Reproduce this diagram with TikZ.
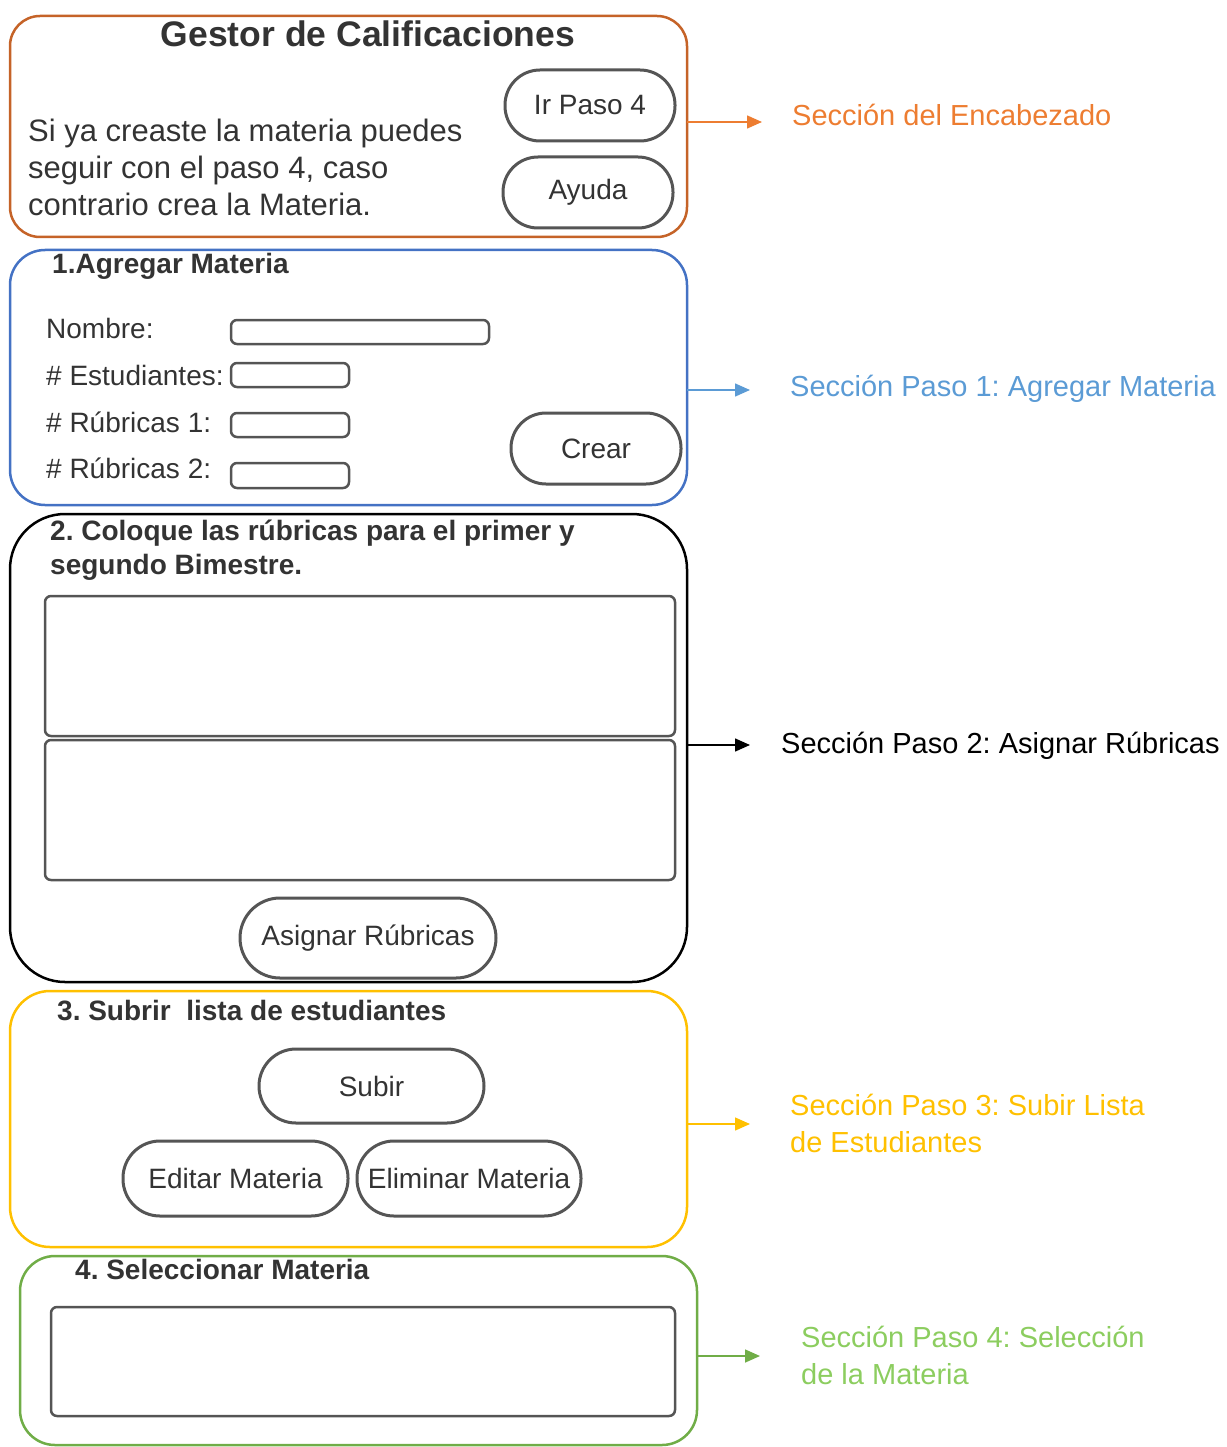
\documentclass[tikz,border=0pt]{standalone}
\usepackage{fontspec}
\setmainfont{Liberation Sans}
\usetikzlibrary{arrows.meta}
\frenchspacing

\definecolor{hdrline}{RGB}{197,99,40}
\definecolor{hdrtxt}{RGB}{237,125,49}
\definecolor{oneline}{RGB}{68,114,196}
\definecolor{onetxt}{RGB}{91,155,213}
\definecolor{threeline}{RGB}{255,192,0}
\definecolor{fourline}{RGB}{112,173,71}
\definecolor{fourtxt}{RGB}{140,205,95}
\definecolor{uigray}{RGB}{85,85,85}
\definecolor{inktxt}{RGB}{51,51,51}

\begin{document}
\begin{tikzpicture}[x=1pt,y=-1pt,
  sect/.style={draw, line width=2.5pt, inner sep=0pt, outer sep=0pt},
  pill/.style={draw=uigray, line width=3pt, inner sep=0pt, text=inktxt,
    font=\fontsize{28}{34}\selectfont},
  field/.style={draw=uigray, line width=2.5pt, rounded corners=6pt, inner sep=0pt},
  txt/.style={anchor=west, inner sep=0pt, text depth=0pt, text=inktxt},
  t28/.style={font=\fontsize{28}{34}\selectfont, text height=20pt},
  t31/.style={font=\fontsize{31}{37}\selectfont, text height=22pt},
  hd/.style={font=\bfseries\fontsize{28}{34}\selectfont, text height=20pt},
  side/.style={anchor=west, inner sep=0pt, text depth=0pt, text height=21pt,
    font=\fontsize{29}{35}\selectfont},
  arr/.style={line width=1.5pt, -{Triangle[length=15pt,width=13pt]}}
]
\useasboundingbox (0,0) rectangle (1226,1447);

% ---- section frames ----
\node (hdr)  [sect, draw=hdrline, rounded corners=30pt, minimum width=677pt, minimum height=221pt] at (348.5,126.5) {};
\node (stp1) [sect, draw=oneline, rounded corners=35pt, minimum width=677pt, minimum height=255pt] at (348.5,377.5) {};
\node (stp2) [sect, draw=black, rounded corners=55pt, minimum width=677pt, minimum height=468pt] at (348.5,748) {};
\node (stp3) [sect, draw=threeline, rounded corners=40pt, minimum width=677pt, minimum height=256pt] at (348.5,1119) {};
\node (stp4) [sect, draw=fourline, rounded corners=35pt, minimum width=677pt, minimum height=189pt] at (358.5,1350.5) {};

% ---- header ----
\node (title) [inner sep=0pt, text depth=0pt, text height=26pt, text=inktxt,
  font=\bfseries\fontsize{35.5}{42}\selectfont] at (368,34) {Gestor de Calificaciones};
\node (intro1) [txt, t31] at (28,131) {Si ya creaste la materia puedes};
\node (intro2) [txt, t31] at (28,168) {seguir con el paso 4, caso};
\node (intro3) [txt, t31] at (28,205) {contrario crea la Materia.};
\node (irpaso) [pill, rounded corners=35pt, minimum width=170pt, minimum height=71pt] at (590,105.5) {Ir Paso 4};
\node (ayuda)  [pill, rounded corners=35pt, minimum width=170pt, minimum height=71pt] at (588,192.5) {Ayuda};

% ---- step 1 ----
\node (h1) [txt, hd] at (52,263) {1.Agregar Materia};
\node (lnom) [txt, t28] at (46,328) {Nombre:};
\node (lest) [txt, t28] at (46,375) {\# Estudiantes:};
\node (lr1)  [txt, t28] at (46,422) {\# Rúbricas 1:};
\node (lr2)  [txt, t28] at (46,468) {\# Rúbricas 2:};
\node (fnom) [field, minimum width=258pt, minimum height=24pt] at (360,332) {};
\node (fest) [field, minimum width=118pt, minimum height=24pt] at (290,375) {};
\node (fr1)  [field, minimum width=118pt, minimum height=24pt] at (290,425) {};
\node (fr2)  [field, minimum width=118pt, minimum height=25pt] at (290,475.5) {};
\node (crear) [pill, rounded corners=35pt, minimum width=170pt, minimum height=71pt] at (596,448.5) {Crear};

% ---- step 2 ----
\node (h2a) [txt, hd] at (50,530) {2. Coloque las rúbricas para el primer y};
\node (h2b) [txt, hd] at (50,564) {segundo Bimestre.};
\node (rub1) [field, minimum width=630pt, minimum height=140pt] at (360,666) {};
\node (rub2) [field, minimum width=630pt, minimum height=140pt] at (360,810) {};
\node (asig) [pill, rounded corners=40pt, minimum width=256pt, minimum height=80pt] at (368,938) {Asignar Rúbricas};

% ---- step 3 ----
\node (h3) [txt, hd] at (57,1010) {3. Subrir\ \ lista de estudiantes};
\node (subir)  [pill, rounded corners=37pt, minimum width=225pt, minimum height=74pt] at (371.5,1086) {Subir};
\node (editar) [pill, rounded corners=37pt, minimum width=225pt, minimum height=75pt] at (235.5,1178.5) {Editar Materia};
\node (elim)   [pill, rounded corners=37pt, minimum width=224pt, minimum height=75pt] at (469,1178.5) {Eliminar Materia};

% ---- step 4 ----
\node (h4) [txt, hd] at (75,1269) {4. Seleccionar Materia};
\node (lista) [field, minimum width=624pt, minimum height=109pt] at (363,1361.5) {};

% ---- side captions ----
\node (cH)  [side, text=hdrtxt] at (792,115) {Sección del Encabezado};
\node (c1)  [side, text=onetxt] at (790,386) {Sección Paso 1: Agregar Materia};
\node (c2)  [side, text=black] at (781,743) {Sección Paso 2: Asignar Rúbricas};
\node (c3a) [side, text=threeline] at (790,1105) {Sección Paso 3: Subir Lista};
\node (c3b) [side, text=threeline] at (790,1142) {de Estudiantes};
\node (c4a) [side, text=fourtxt] at (801,1337) {Sección Paso 4: Selección};
\node (c4b) [side, text=fourtxt] at (801,1374) {de la Materia};

% ---- pointers from frames to captions ----
\coordinate (pH) at (762,122);
\coordinate (p1) at (750,390);
\coordinate (p2) at (750,745);
\coordinate (p3) at (750,1124);
\coordinate (p4) at (760,1356);
\draw[arr, hdrtxt] (hdr.east |- pH) -- (pH);
\draw[arr, onetxt] (stp1.east |- p1) -- (p1);
\draw[arr, black] (stp2.east |- p2) -- (p2);
\draw[arr, threeline] (stp3.east |- p3) -- (p3);
\draw[arr, fourline] (stp4.east |- p4) -- (p4);
\end{tikzpicture}
\end{document}
